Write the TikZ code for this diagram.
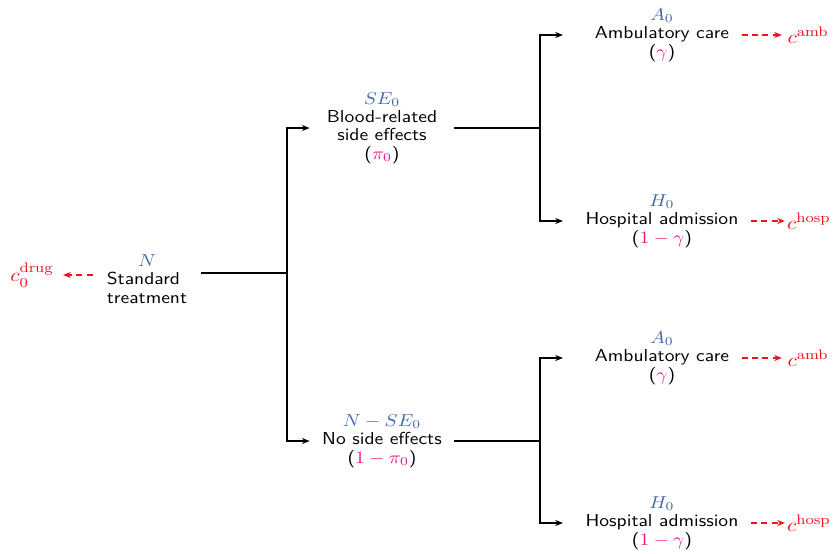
\documentclass[tikz,border=0pt]{standalone}
\usepackage{graphicx}
\usetikzlibrary{arrows.meta}
\definecolor{lblblue}{RGB}{65,105,170}
\definecolor{probpink}{RGB}{235,20,140}
\definecolor{costred}{RGB}{240,20,30}
\newcommand{\stx}[1]{\scalebox{1.13}[1]{\begin{tabular}{@{}c@{}}#1\end{tabular}}}
\newcommand{\stxl}[1]{\scalebox{1.13}[1]{\begin{tabular}{@{}l@{}}#1\end{tabular}}}
\newcommand{\sxm}[1]{\scalebox{1.13}[1]{#1}}
\begin{document}
\begin{tikzpicture}[x=0.578pt,y=-0.578pt,
  txt/.style={font=\sffamily\fontsize{10}{10.6}\selectfont, inner sep=3pt},
  cost/.style={font=\fontsize{11}{13}\selectfont, inner sep=3pt, anchor=west},
  mid/.style={txt, minimum width=83.2pt},
  line/.style={line width=0.7pt},
  arr/.style={line, -{Stealth[length=4.5pt,width=3.5pt]}},
  costarr/.style={costred, line width=0.8pt, dash pattern=on 3.5pt off 2.5pt, -{Stealth[length=4.5pt,width=3.5pt]}}]
\useasboundingbox (0,0) rectangle (836,554);

% nodes
\node[txt, inner xsep=8pt] (root) at (147,281) {\stxl{\multicolumn{1}{@{}c@{}}{\textcolor{lblblue}{$N$}}\\Standard\\treatment}};
\node[cost, inner xsep=5pt, anchor=east] (cdrug) at (63,275) {\sxm{\textcolor{costred}{$c_0^{\mathrm{drug}}$}}};

\node[mid] (se) at (382,128) {\stx{\textcolor{lblblue}{$SE_0$}\\Blood-related\\side effects\\(\textcolor{probpink}{$\pi_0$})}};
\node[mid] (nse) at (382,441) {\stx{\textcolor{lblblue}{$N-SE_0$}\\No side effects\\(\textcolor{probpink}{$1-\pi_0$})}};

\node[txt] (a0) at (662,35) {\stx{\textcolor{lblblue}{$A_0$}\\Ambulatory care\\(\textcolor{probpink}{$\gamma$})}};
\node[txt] (h0) at (662,221) {\stx{\textcolor{lblblue}{$H_0$}\\Hospital admission\\(\textcolor{probpink}{$1-\gamma$})}};
\node[txt] (a1) at (662,358) {\stx{\textcolor{lblblue}{$A_0$}\\Ambulatory care\\(\textcolor{probpink}{$\gamma$})}};
\node[txt] (h1) at (662,523) {\stx{\textcolor{lblblue}{$H_0$}\\Hospital admission\\(\textcolor{probpink}{$1-\gamma$})}};

\node[cost] (ca0) at (782,35) {\sxm{\textcolor{costred}{$c^{\mathrm{amb}}$}}};
\node[cost, inner xsep=1pt] (ch0) at (785,221) {\sxm{\textcolor{costred}{$c^{\mathrm{hosp}}$}}};
\node[cost] (ca1) at (782,358) {\sxm{\textcolor{costred}{$c^{\mathrm{amb}}$}}};
\node[cost, inner xsep=1pt] (ch1) at (785,523) {\sxm{\textcolor{costred}{$c^{\mathrm{hosp}}$}}};

% fork points
\coordinate (f1) at (287,273);
\coordinate (f2) at (540,128);
\coordinate (f3) at (540,441);
\coordinate (tip) at (563,0);

% connectors
\draw[costarr] (root.west |- cdrug.east) -- (cdrug.east);
\draw[line] (root.east |- f1) -- (f1);
\draw[arr] (f1) |- (se.west);
\draw[arr] (f1) |- (nse.west);

\draw[line] (se.east) -- (f2);
\draw[arr] (f2) |- (a0.west -| tip);
\draw[arr] (f2) |- (h0.west -| tip);

\draw[line] (nse.east) -- (f3);
\draw[arr] (f3) |- (a1.west -| tip);
\draw[arr] (f3) |- (h1.west -| tip);

\draw[costarr, shorten <=4pt] (a0.east) -- (ca0.west);
\draw[costarr, shorten <=4pt] (h0.east) -- (ch0.west);
\draw[costarr, shorten <=4pt] (a1.east) -- (ca1.west);
\draw[costarr, shorten <=4pt] (h1.east) -- (ch1.west);
\end{tikzpicture}
\end{document}
